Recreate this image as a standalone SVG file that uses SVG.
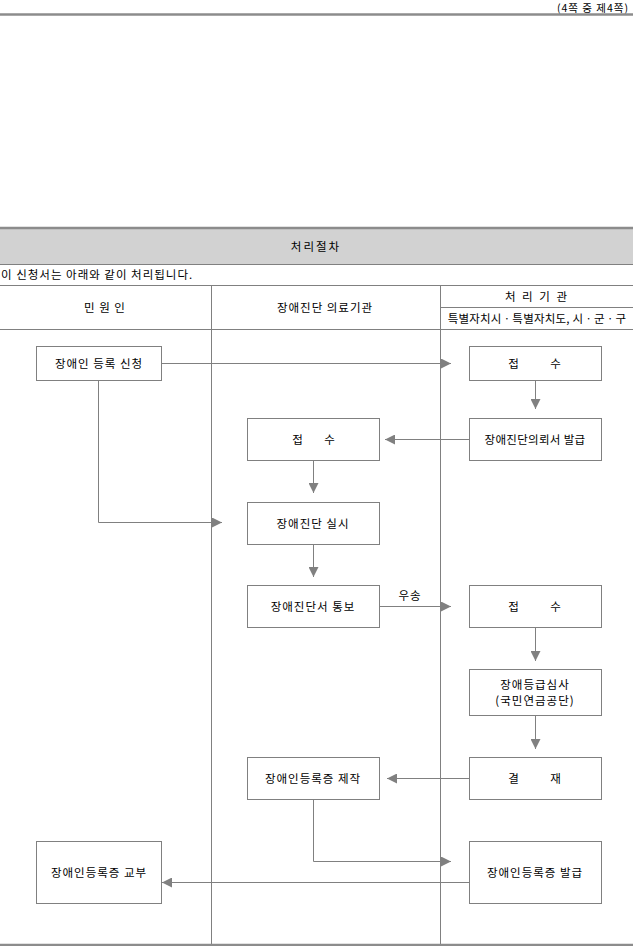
<svg xmlns="http://www.w3.org/2000/svg" width="633" height="946" viewBox="0 0 633 946">
<style>
text{font-family:"Noto Sans CJK KR","Noto Sans",sans-serif;font-size:11.5px;fill:#000;letter-spacing:1px;}
.c{text-anchor:middle;dominant-baseline:central;}
.box{fill:#fff;stroke:#808080;stroke-width:1;}
.grid{stroke:#808080;stroke-width:1;fill:none;}
.thick{stroke:#8c8c8c;stroke-width:2.5;fill:none;}
.con{stroke:#808080;stroke-width:1;fill:none;marker-end:url(#ah);}
</style>
<defs>
<marker id="ah" markerUnits="userSpaceOnUse" markerWidth="10" markerHeight="10" refX="10" refY="5" orient="auto">
<path d="M0,0 L10,5 L0,10 Z" fill="#808080"/>
</marker>
</defs>
<rect x="0" y="0" width="633" height="946" fill="#fff"/>
<g id="page-header">
<text x="629" y="11.5" text-anchor="end" style="font-size:10.5px;letter-spacing:1px">(4쪽 중 제4쪽)</text>
<line class="thick" x1="0" y1="14.5" x2="633" y2="14.5"/>
</g>
<g id="table">
<rect x="0" y="229" width="633" height="35" fill="#d2d2d2"/>
<line class="thick" x1="0" y1="228" x2="633" y2="228"/>
<line class="grid" x1="0" y1="264.5" x2="633" y2="264.5"/>
<text class="c" x="316" y="246" style="letter-spacing:2px">처리절차</text>
<text x="1" y="274" dominant-baseline="central">이 신청서는 아래와 같이 처리됩니다.</text>
<line class="grid" x1="0" y1="285.5" x2="633" y2="285.5"/>
<line class="grid" x1="440.5" y1="307.5" x2="633" y2="307.5"/>
<line class="grid" x1="0" y1="329.5" x2="633" y2="329.5"/>
<line class="grid" x1="211.5" y1="285" x2="211.5" y2="945"/>
<line class="grid" x1="440.5" y1="285" x2="440.5" y2="945"/>
<line class="thick" x1="0" y1="945" x2="633" y2="945"/>
<text class="c" x="105" y="307">민 원 인</text>
<text class="c" x="325" y="307">장애진단 의료기관</text>
<text class="c" x="537" y="296" style="letter-spacing:2px">처 리 기 관</text>
<text class="c" x="537" y="318" style="letter-spacing:0.2px">특별자치시ㆍ특별자치도, 시ㆍ군ㆍ구</text>
</g>
<g id="n1"><rect class="box" x="36.5" y="346.5" width="125" height="34"/><text class="c" x="99" y="363">장애인 등록 신청</text></g>
<g id="n2"><rect class="box" x="469.5" y="346.5" width="132" height="34"/><text class="c" y="363"><tspan x="514">접</tspan><tspan x="556">수</tspan></text></g>
<g id="n3"><rect class="box" x="469.5" y="418.5" width="132" height="42"/><text class="c" x="535" y="439" style="letter-spacing:0.3px">장애진단의뢰서 발급</text></g>
<g id="n4"><rect class="box" x="247.5" y="418.5" width="132" height="42"/><text class="c" y="439"><tspan x="298">접</tspan><tspan x="330">수</tspan></text></g>
<g id="n5"><rect class="box" x="247.5" y="502.5" width="132" height="42"/><text class="c" x="313" y="523">장애진단 실시</text></g>
<g id="n6"><rect class="box" x="247.5" y="585.5" width="132" height="42"/><text class="c" x="313" y="606">장애진단서 통보</text></g>
<g id="n7"><rect class="box" x="469.5" y="585.5" width="132" height="42"/><text class="c" y="606"><tspan x="514">접</tspan><tspan x="556">수</tspan></text></g>
<g id="n8"><rect class="box" x="469.5" y="669.5" width="132" height="46"/><text class="c" x="535" y="684">장애등급심사</text><text class="c" x="535" y="700">(국민연금공단)</text></g>
<g id="n9"><rect class="box" x="469.5" y="757.5" width="132" height="42"/><text class="c" y="778"><tspan x="514">결</tspan><tspan x="556">재</tspan></text></g>
<g id="n10"><rect class="box" x="247.5" y="757.5" width="132" height="42"/><text class="c" x="313" y="778">장애인등록증 제작</text></g>
<g id="n11"><rect class="box" x="36.5" y="841.5" width="125" height="62"/><text class="c" x="99" y="872">장애인등록증 교부</text></g>
<g id="n12"><rect class="box" x="469.5" y="841.5" width="132" height="62"/><text class="c" x="535" y="872">장애인등록증 발급</text></g>
<g id="connectors">
<path class="con" d="M161.5,363.5 H451"/>
<path class="con" d="M535.5,380.5 V409"/>
<path class="con" d="M469.5,439.5 H385"/>
<path class="con" d="M313.5,460.5 V493"/>
<path class="con" d="M98.5,380.5 V522.5 H222"/>
<path class="con" d="M313.5,544.5 V577"/>
<path class="con" d="M379.5,606.5 H451"/>
<text class="c" x="410" y="595">우송</text>
<path class="con" d="M535.5,627.5 V661"/>
<path class="con" d="M535.5,715.5 V749"/>
<path class="con" d="M469.5,778.5 H387"/>
<path class="con" d="M313.5,799.5 V861.5 H451"/>
<path class="con" d="M469.5,882.5 H162"/>
</g>
</svg>
